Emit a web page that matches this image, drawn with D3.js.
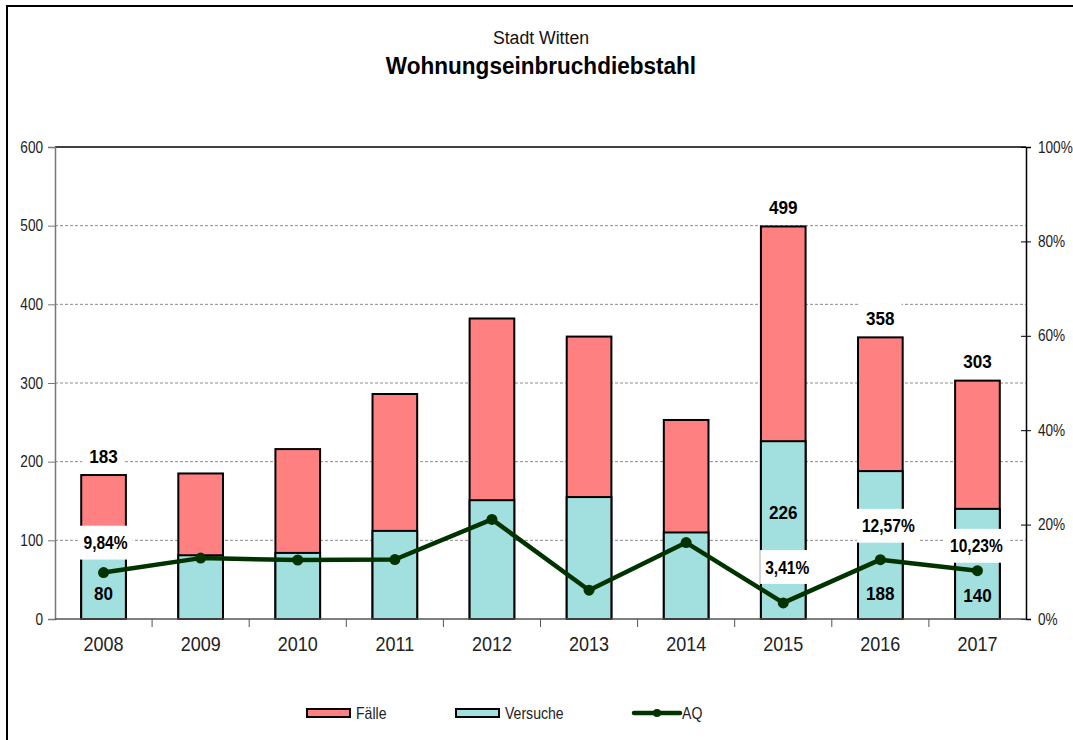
<!DOCTYPE html>
<html>
<head>
<meta charset="utf-8">
<title>Wohnungseinbruchdiebstahl</title>
<script src="https://cdn.jsdelivr.net/npm/d3@7"></script>
<style>
    body { margin: 0; background: #fff; }
    svg { display: block; }
    text { font-family: "Liberation Sans", Arial, sans-serif; fill: #000; }
</style>
</head>
<body>
<svg id="chart" width="1073" height="740"></svg>
<script>
// Daten
const jahre = ["2008", "2009", "2010", "2011", "2012", "2013", "2014", "2015", "2016", "2017"]
const faelle = [183, 185, 216, 286, 382, 359, 253, 499, 358, 303]
const versuche = [80, 81, 84, 112, 151, 155, 110, 226, 188, 140]
const aq = [9.84, 12.9, 12.5, 12.6, 21.1, 6.1, 16.2, 3.41, 12.57, 10.23]   // Aufklärungsquote in %
const yTicks = [0, 100, 200, 300, 400, 500, 600]
const aqTicks = [0, 20, 40, 60, 80, 100]
const beschriftet = ["2008", "2015", "2016", "2017"]   // Jahre mit Datenbeschriftung

// Lage der Beschriftungen (px), wie im Original von Hand verschoben
const versuchLabelAbstand = { "2008": 26, "2015": 107, "2016": 26, "2017": 24 }
const aqLabelVersatz = { "2008": [2, -30], "2015": [4, -36], "2016": [8, -34], "2017": [-1, -25] }

const W = 1073, H = 740
const plotL = 55, plotR = 1026, plotT = 147, plotB = 619

const svg = d3.select("#chart")

// schmale Schrift nachbilden (Arial Narrow ist nicht da): horizontal stauchen
function narrow(sel, k) {
    sel.each(function () {
        const t = d3.select(this)
        const tx = +t.attr("x") || 0, ty = +t.attr("y") || 0
        t.attr("x", 0).attr("y", 0)
            .attr("transform", `translate(${tx},${ty}) scale(${k},1)`)
    })
    return sel
}

// Rahmen
svg.append("path")
    .attr("d", `M7,${H} V6 H${W}`)
    .attr("fill", "none")
    .attr("stroke", "#000")
    .attr("stroke-width", 2)

// Titel
narrow(svg.append("text").attr("x", 541).attr("y", 44).attr("text-anchor", "middle")
    .style("font-size", "19px").style("fill", "#111").text("Stadt Witten"), 0.93)
narrow(svg.append("text").attr("x", 541).attr("y", 74).attr("text-anchor", "middle")
    .style("font-size", "24px").style("font-weight", "bold").text("Wohnungseinbruchdiebstahl"), 0.94)

// Skalen
const x = d3.scaleBand().domain(jahre).range([plotL, plotR]).paddingInner(0.54).paddingOuter(0.27)
const y = d3.scaleLinear().domain([0, 600]).range([plotB, plotT])
const yAQ = d3.scaleLinear().domain([0, 100]).range([plotB, plotT])
const cx = d => x(d) + x.bandwidth() / 2

// Gitterlinien
svg.append("g").selectAll("line")
    .data(yTicks.filter(t => t > 0 && t < 600))
    .enter().append("line")
    .attr("x1", plotL).attr("x2", plotR)
    .attr("y1", d => y(d)).attr("y2", d => y(d))
    .attr("stroke", "#8c8c8c")
    .attr("stroke-dasharray", "3,2")
svg.append("line")
    .attr("x1", plotL).attr("x2", plotR).attr("y1", y(600)).attr("y2", y(600))
    .attr("stroke", "#000").attr("stroke-width", 1.5)

// Balken: Fälle (gesamt) und Versuche
const balken = svg.append("g")
balken.selectAll("rect.faelle")
    .data(jahre).enter().append("rect")
    .attr("class", "faelle")
    .attr("x", d => x(d)).attr("width", x.bandwidth())
    .attr("y", (d, i) => y(faelle[i]))
    .attr("height", (d, i) => y(0) - y(faelle[i]))
    .attr("fill", "#ff8080").attr("stroke", "#000").attr("stroke-width", 2)
balken.selectAll("rect.versuche")
    .data(jahre).enter().append("rect")
    .attr("class", "versuche")
    .attr("x", d => x(d)).attr("width", x.bandwidth())
    .attr("y", (d, i) => y(versuche[i]))
    .attr("height", (d, i) => y(0) - y(versuche[i]))
    .attr("fill", "#a2e0e0").attr("stroke", "#000").attr("stroke-width", 2)

// linke Achse
const axL = svg.append("g").attr("transform", `translate(${plotL},0)`)
    .call(d3.axisLeft(y).tickValues(yTicks).tickSize(7).tickPadding(5))
axL.select(".domain").attr("stroke", "#777").attr("stroke-width", 1.5)
axL.selectAll(".tick line").attr("stroke", "#777")
axL.selectAll(".tick text").style("font-size", "16px").style("fill", "#222")
    .style("font-family", "'Liberation Sans', Arial, sans-serif")
narrow(axL.selectAll(".tick text"), 0.85)

// rechte Achse (AQ)
const axR = svg.append("g").attr("transform", `translate(${plotR},0)`)
    .call(d3.axisRight(yAQ).tickValues(aqTicks).tickSize(5).tickPadding(7).tickFormat(d => d + "%"))
axR.select(".domain").attr("stroke", "#000").attr("stroke-width", 1.5)
axR.selectAll(".tick line").attr("x1", -5).attr("stroke", "#000")
axR.selectAll(".tick text").style("font-size", "16px").style("fill", "#222")
    .style("font-family", "'Liberation Sans', Arial, sans-serif")
narrow(axR.selectAll(".tick text"), 0.85)

// untere Achse mit Strichen zwischen den Kategorien
svg.append("line")
    .attr("x1", plotL).attr("x2", plotR).attr("y1", plotB).attr("y2", plotB)
    .attr("stroke", "#555").attr("stroke-width", 1.5)
svg.append("g").selectAll("line")
    .data(jahre.slice(1)).enter().append("line")
    .attr("x1", d => x(d) - x.step() * x.paddingInner() / 2)
    .attr("x2", d => x(d) - x.step() * x.paddingInner() / 2)
    .attr("y1", plotB).attr("y2", plotB + 8)
    .attr("stroke", "#555")
narrow(svg.append("g").selectAll("text")
    .data(jahre).enter().append("text")
    .attr("x", d => cx(d)).attr("y", 651)
    .attr("text-anchor", "middle")
    .style("font-size", "20px").style("fill", "#222")
    .text(d => d), 0.9)

// AQ-Linie
const linie = d3.line().x(d => cx(d)).y((d, i) => yAQ(aq[i]))
svg.append("path")
    .datum(jahre)
    .attr("d", linie)
    .attr("fill", "none")
    .attr("stroke", "#003300")
    .attr("stroke-width", 4.5)
    .attr("stroke-linejoin", "round")
svg.append("g").selectAll("circle")
    .data(jahre).enter().append("circle")
    .attr("cx", d => cx(d)).attr("cy", (d, i) => yAQ(aq[i]))
    .attr("r", 5.5).attr("fill", "#003300")

// Beschriftungen
const fmt = v => v.toFixed(2).replace(".", ",") + "%"
function label(g, tx, ty, txt, k, box) {
    const t = g.append("text")
        .attr("x", tx).attr("y", ty).attr("dy", "0.35em")
        .attr("text-anchor", "middle")
        .style("font-size", "19px").style("font-weight", "bold")
        .text(txt)
    narrow(t, k)
    if (box) {
        const b = t.node().getBBox()
        const w = b.width * k
        g.insert("rect", "text")
            .attr("x", tx - w / 2 - box[0]).attr("y", ty + b.y - box[1])
            .attr("width", w + 2 * box[0]).attr("height", b.height + 2 * box[1])
            .attr("fill", "#fff")
    }
}
const labels = svg.append("g")
beschriftet.forEach(j => {
    const i = jahre.indexOf(j)
    const v = aqLabelVersatz[j]
    label(labels.append("g"), cx(j), y(faelle[i]) - 19, String(faelle[i]), 0.9, [7, 5])
    label(labels.append("g"), cx(j) + v[0], yAQ(aq[i]) + v[1], fmt(aq[i]), 0.82, [5, 6])
    label(labels.append("g"), cx(j), plotB - versuchLabelAbstand[j], String(versuche[i]), 0.9, null)
})

// Legende
const leg = svg.append("g").attr("transform", "translate(0,713)")
const legItems = [
    { name: "Fälle", x: 307, fill: "#ff8080" },
    { name: "Versuche", x: 456, fill: "#a2e0e0" }
]
legItems.forEach(it => {
    leg.append("rect").attr("x", it.x).attr("y", -4).attr("width", 43).attr("height", 8)
        .attr("fill", it.fill).attr("stroke", "#000").attr("stroke-width", 2)
    narrow(leg.append("text").attr("x", it.x + 49).attr("y", 0).attr("dy", "0.35em")
        .style("font-size", "16px").style("fill", "#222").text(it.name), 0.88)
})
leg.append("line").attr("x1", 634).attr("x2", 680).attr("y1", 0).attr("y2", 0)
    .attr("stroke", "#003300").attr("stroke-width", 4.5).attr("stroke-linecap", "round")
leg.append("circle").attr("cx", 657).attr("cy", 0).attr("r", 4).attr("fill", "#003300")
narrow(leg.append("text").attr("x", 682).attr("y", 0).attr("dy", "0.35em")
    .style("font-size", "16px").style("fill", "#222").text("AQ"), 0.88)
</script>
</body>
</html>
